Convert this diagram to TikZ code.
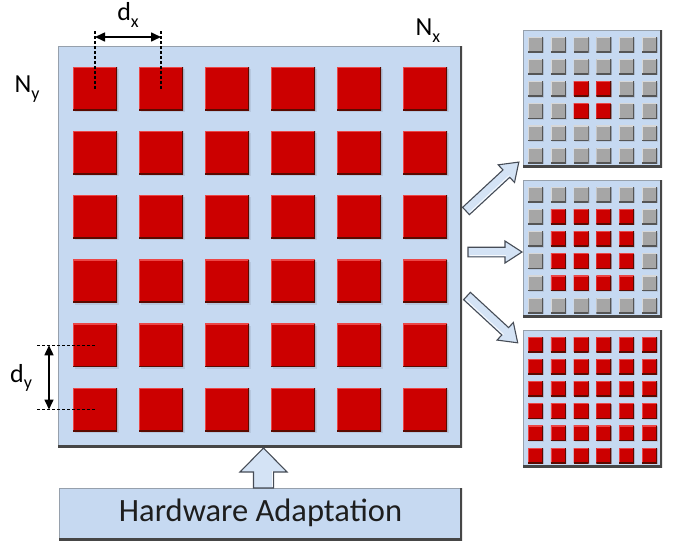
\documentclass[tikz,border=0pt]{standalone}
\usepackage{fontspec}
\setmainfont{Carlito}
\usetikzlibrary{arrows.meta,calc}

\definecolor{panelblue}{RGB}{198,217,241}
\definecolor{panelrim}{RGB}{150,160,172}
\definecolor{panelshade}{RGB}{70,70,70}
\definecolor{cellred}{RGB}{204,0,0}
\definecolor{cellredlight}{RGB}{236,70,70}
\definecolor{cellreddark}{RGB}{90,10,0}
\definecolor{cellgray}{RGB}{166,166,166}
\definecolor{cellgraylight}{RGB}{215,215,215}
\definecolor{cellgraydark}{RGB}{85,85,85}
\definecolor{arrowblue}{RGB}{212,227,245}
\definecolor{arrowedge}{RGB}{70,76,86}

\newcommand{\lblsub}[1]{\raisebox{-0.26em}{\fontsize{18}{18}\selectfont #1}}

\tikzset{
  bevel/.style n args={4}{path picture={
      \draw[line width=#3, #1]
        (path picture bounding box.south west) -- (path picture bounding box.north west)
        -- (path picture bounding box.north east);
      \draw[line width=#4, #2]
        (path picture bounding box.north east) -- (path picture bounding box.south east)
        -- (path picture bounding box.south west);
  }},
  board/.style={fill=panelblue, inner sep=0pt, outer sep=0pt, anchor=north west,
    bevel={panelrim}{panelshade}{2pt}{3.5pt}},
  redcell/.style={fill=cellred, inner sep=0pt, outer sep=0pt, anchor=north west,
    minimum width=44pt, minimum height=43pt,
    bevel={cellredlight}{cellreddark}{2pt}{2.6pt}},
  smallred/.style={fill=cellred, inner sep=0pt, outer sep=0pt, anchor=north west,
    minimum width=15pt, minimum height=15pt,
    bevel={cellredlight}{cellreddark}{1.4pt}{2pt}},
  smallgray/.style={fill=cellgray, inner sep=0pt, outer sep=0pt, anchor=north west,
    minimum width=15pt, minimum height=15pt,
    bevel={cellgraylight}{cellgraydark}{1.4pt}{2pt}},
  cellshadow/.style={fill=black, opacity=0.08},
  dimdash/.style={line width=1.4pt, dash pattern=on 3pt off 2pt},
  dimarrow/.style={line width=1.6pt, {Triangle[length=10pt,width=9pt]}-{Triangle[length=10pt,width=9pt]}},
  blockfill/.style={draw=arrowedge, fill=arrowblue, line width=1.1pt, line join=miter},
  % block arrow along local x: {length}{shaft half width}{head half width}{head length}
  pics/blockarr/.style n args={4}{code={
    \draw[blockfill] (0,-#2) -- ({#1-#4},-#2) -- ({#1-#4},-#3) -- (#1,0)
      -- ({#1-#4},#3) -- ({#1-#4},#2) -- (0,#2) -- cycle;
    \draw[white, line width=0.9pt, opacity=0.8]
      (1.5,{#2-1.5}) -- ({#1-#4+1},{#2-1.5});
  }},
  label/.style={font=\fontsize{26}{26}\selectfont, inner sep=0pt, text=black}
}

\begin{document}
\begin{tikzpicture}[x=1pt,y=-1pt]
\useasboundingbox (0,0) rectangle (683,544);

% main array board
\node[board, minimum width=404pt, minimum height=401pt] (main) at (58,46) {};
\foreach \r in {0,...,5}{
  \foreach \c in {0,...,5}{
    \fill[cellshadow] ({73+66*\c+1.5},{67+64.2*\r+2}) rectangle +(44,43);
    \node[redcell] (m-\r-\c) at ({73+66*\c},{67+64.2*\r}) {};
  }
}

% element spacing d_x
\coordinate (dxa) at ($(m-0-0.center)+(0,-58.5)$);
\coordinate (dxb) at ($(m-0-1.center)+(0,-58.5)$);
\draw[dimdash] (m-0-0.center) -- (dxa);
\draw[dimdash] (m-0-1.center) -- (dxb);
\draw[dimarrow] ($(dxa)+(0,7)$) -- ($(dxb)+(0,7)$);
\node[label] (dxl) at (128,15) {d\lblsub{x}};

% element spacing d_y
\coordinate (dya) at ($(m-4-0.center)+(-58,0)$);
\coordinate (dyb) at ($(m-5-0.center)+(-58,0)$);
\draw[dimdash] (m-4-0.center) -- (dya);
\draw[dimdash] (m-5-0.center) -- (dyb);
\draw[dimarrow] ($(dya)+(12,0)$) -- ($(dyb)+(12,0)$);
\node[label] (dyl) at (21,378) {d\lblsub{y}};

% array sizes
\node[label] (nx) at (428,31) {N\lblsub{x}};
\node[label] (ny) at (27,89) {N\lblsub{y}};

% hardware box and feed arrow into the main array
\node[board, minimum width=403pt, minimum height=52pt] (hw) at (59,488) {};
\node[font=\fontsize{32.5}{32.5}\selectfont, text={rgb,255:red,30;green,30;blue,30}] (hwt) at ($(hw.center)+(0,-1)$) {Hardware Adaptation};
\coordinate (upTail) at (hw.north -| 263.5,0);
\pic[rotate=90] at (upTail) {blockarr={40}{10}{23.5}{24}};

% adapted sub-arrays
\foreach \k/\ytop/\a/\b in {1/30/2/3, 2/180/1/4, 3/330/0/5}{
  \node[board, minimum width=139pt, minimum height=137pt] (p\k) at (523,\ytop) {};
  \foreach \r in {0,...,5}{
    \foreach \c in {0,...,5}{
      \pgfmathtruncatemacro\isred{(\r>=\a) && (\r<=\b) && (\c>=\a) && (\c<=\b)}
      \fill[cellshadow] ({528+22.8*\c+1},{\ytop+7+22.2*\r+1.2}) rectangle +(15,15);
      \ifnum\isred=1
        \node[smallred] (p\k-\r-\c) at ({528+22.8*\c},{\ytop+7+22.2*\r}) {};
      \else
        \node[smallgray] (p\k-\r-\c) at ({528+22.8*\c},{\ytop+7+22.2*\r}) {};
      \fi
    }
  }
}

% arrows from the main array to the sub-arrays
\coordinate (t1) at (466,211);
\coordinate (t2) at (468,252);
\coordinate (t3) at (467,296);
\pic[rotate=42.8] at (t1) {blockarr={72}{5}{12}{17}};
\pic at (t2) {blockarr={54}{4.8}{11}{17}};
\pic[rotate=-42.7] at (t3) {blockarr={69}{5}{12}{17}};
\end{tikzpicture}
\end{document}
